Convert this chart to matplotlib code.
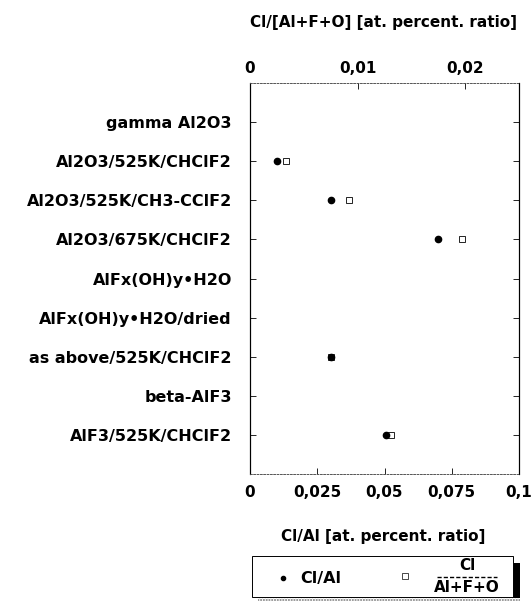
import numpy as np
import matplotlib.pyplot as plt
from matplotlib.patches import Rectangle
from matplotlib.lines import Line2D

plt.rcParams['font.family'] = ['DejaVu Sans']
plt.rcParams['font.weight'] = 'bold'

## samples, top to bottom
samples = ["gamma Al2O3", "Al2O3/525K/CHClF2", "Al2O3/525K/CH3-CClF2",
           "Al2O3/675K/CHClF2", "AlFx(OH)y\u2022H2O", "AlFx(OH)y\u2022H2O/dried",
           "as above/525K/CHClF2", "beta-AlF3", "AlF3/525K/CHClF2"]

## Cl/Al (bottom axis) and Cl/(Al+F+O) (top axis), nan = not detected
cl_al = [np.nan, 0.010, 0.030, 0.070, np.nan, np.nan, 0.030, np.nan, 0.0505]
cl_afo = [np.nan, 0.0033, 0.0092, 0.0197, np.nan, np.nan, 0.0075, np.nan, 0.0131]

bottom_ticks = [0, 0.025, 0.05, 0.075, 0.1]
bottom_labels = ["0", "0,025", "0,05", "0,075", "0,1"]
top_ticks = [0, 0.01, 0.02]
top_labels = ["0", "0,01", "0,02"]

W, H = 532, 609
fig = plt.figure(figsize=(W / 100, H / 100), dpi=100)
ax = fig.add_axes([250 / W, 1 - 474 / H, 269 / W, 391 / H])

rows = np.arange(len(samples))
ax.plot(cl_al, rows, 'o', color='black', ms=4.5, ls='none')
ax.set_xlim(0, 0.1)
ax.set_ylim(len(samples), -1)
ax.set_yticks(rows)
ax.set_yticklabels(samples, fontsize=11.5, fontweight='bold')
ax.set_xticks(bottom_ticks)
ax.set_xticklabels(bottom_labels, fontsize=11, fontweight='bold')
ax.tick_params(axis='y', direction='in', length=4, width=0.6, pad=13, right=True)
ax.tick_params(axis='x', direction='in', length=4, width=0.6, pad=8)

ax2 = ax.twiny()
ax2.plot(cl_afo, rows, 's', mfc='none', mec='black', mew=0.6, ms=5, ls='none')
ax2.set_xlim(0, 0.025)
ax2.set_xticks(top_ticks)
ax2.set_xticklabels(top_labels, fontsize=11, fontweight='bold')
ax2.tick_params(axis='x', direction='in', length=4, width=0.6, pad=5)

for a in (ax, ax2):
    for s in ('top', 'bottom'):
        a.spines[s].set_linestyle((0, (2, 2)))
        a.spines[s].set_linewidth(0.6)
        a.spines[s].set_color('#555555')
    for s in ('left', 'right'):
        a.spines[s].set_linewidth(0.8)

fig.text(383 / W, 1 - 23 / H, "Cl/[Al+F+O] [at. percent. ratio]",
         ha='center', va='center', fontsize=11, fontweight='bold')
fig.text(383 / W, 1 - 537 / H, "Cl/Al [at. percent. ratio]",
         ha='center', va='center', fontsize=11, fontweight='bold')

## legend box with shadow
def px(x, y):
    return x / W, 1 - y / H

fig.patches.append(Rectangle(px(258, 601), 262 / W, 38 / H, transform=fig.transFigure,
                             facecolor='white', edgecolor='#777777', hatch='......', lw=0))
fig.patches.append(Rectangle(px(512, 598), 8 / W, 35 / H, transform=fig.transFigure,
                             facecolor='black', edgecolor='black', lw=0))
fig.patches.append(Rectangle(px(252, 597), 261 / W, 41 / H, transform=fig.transFigure,
                             facecolor='white', edgecolor='black', lw=0.7))
fig.lines.append(Line2D([283 / W], [1 - 578 / H], transform=fig.transFigure,
                        marker='o', ms=3, color='black', ls='none'))
fig.text(300 / W, 1 - 578 / H, "Cl/Al", ha='left', va='center', fontsize=11.5)
fig.lines.append(Line2D([405 / W], [1 - 576 / H], transform=fig.transFigure,
                        marker='s', ms=4, mfc='none', mec='black', mew=0.5, ls='none'))
fig.text(467 / W, 1 - 566 / H, "Cl", ha='center', va='center', fontsize=11)
fig.lines.append(Line2D([437 / W, 497 / W], [1 - 577 / H] * 2, transform=fig.transFigure,
                        color='black', lw=1, ls=(0, (3, 1.5))))
fig.text(467 / W, 1 - 588 / H, "Al+F+O", ha='center', va='center', fontsize=11)

fig.savefig("out.png", dpi=100)
